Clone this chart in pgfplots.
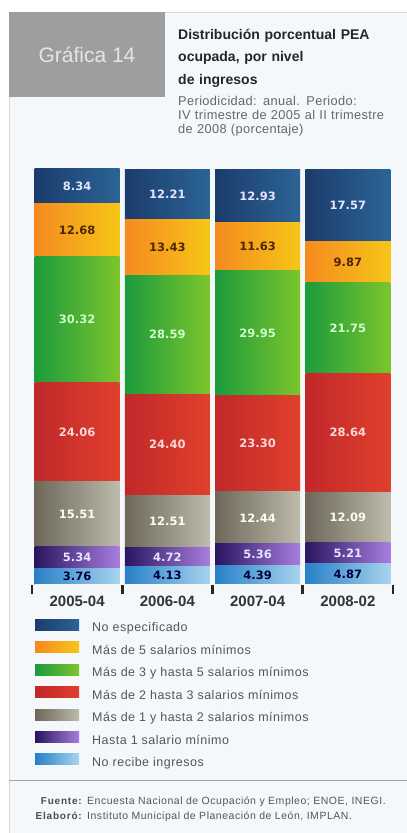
\documentclass[border=0pt]{standalone}
\usepackage{fontspec}
\setmainfont{Liberation Sans}
\newfontfamily\dv{DejaVu Sans}
\usepackage{pgfplots}
\usepackage{pgfplotstable}
\pgfplotsset{compat=1.18}

\definecolor{panelbg}{HTML}{F5F8FA}
\definecolor{sep}{HTML}{FAF3DE}
\definecolor{txt}{HTML}{555555}
% series colours, left / right end of each gradient
\definecolor{neL}{HTML}{1B3C6C}\definecolor{neR}{HTML}{2C6496}
\definecolor{mfL}{HTML}{F58A1F}\definecolor{mfR}{HTML}{F6C617}
\definecolor{htL}{HTML}{1C9B3C}\definecolor{htR}{HTML}{7CC52C}
\definecolor{dtL}{HTML}{C0282A}\definecolor{dtR}{HTML}{E0402C}
\definecolor{udL}{HTML}{6D685A}\definecolor{udR}{HTML}{BDBBAB}
\definecolor{hoL}{HTML}{2A1560}\definecolor{hoR}{HTML}{A87EE0}
\definecolor{nrL}{HTML}{2780C8}\definecolor{nrR}{HTML}{A8D4EE}

% empty mark: the scatter code below does all the drawing
\pgfdeclareplotmark{nothing}{}

% columns: no recibe, hasta 1, 1-2, 2-3, 3-5, mas de 5, no especificado
\pgfplotstableread{
x  nr    ho    ud     dt     ht     mf     ne
0  3.76  5.34  15.51  24.06  30.32  12.68  8.34
1  4.13  4.72  12.51  24.40  28.59  13.43  12.21
2  4.39  5.36  12.44  23.30  29.95  11.63  12.93
3  4.87  5.21  12.09  28.64  21.75  9.87   17.57
}\datatable

% each segment is drawn as a shaded box hanging below its stacked top;
% meta is the segment value, transformed meta = 10*value (0..100 -> 0..1000),
% one percent = 4.15pt
\pgfplotsset{
  seg/.style n args={3}{
    draw=none, fill=none,
    scatter, mark=nothing,
    scatter/@pre marker code/.code={
      \pgfmathsetmacro\hh{0.415*\pgfplotspointmetatransformed}
      \shade[left color=#1, right color=#2] (-42.5pt,-\hh pt) rectangle (42.5pt,0pt);
      \draw[sep, line width=0.9pt] (-42.5pt,-\hh pt) -- (42.5pt,-\hh pt);
      \node[text=#3, inner sep=0pt, font=\dv\bfseries\fontsize{11.5}{11.5}\selectfont]
        at (0pt,{-0.5*\hh pt})
        {\pgfmathprintnumber[fixed, fixed zerofill, precision=2, assume math mode=true]{\pgfplotspointmeta}};
    },
    scatter/@post marker code/.code={},
    legend image code/.code={
      \shade[left color=#1, right color=#2] (0pt,-1.5pt) rectangle (44pt,9.5pt);
      \path (57pt,0pt);
    },
  },
}

\begin{document}
\begin{tikzpicture}
\useasboundingbox (0pt,0pt) rectangle (407pt,-833pt);
\fill[white] (0pt,0pt) rectangle (407pt,-833pt);
\fill[panelbg] (9pt,-12pt) rectangle (407pt,-833pt);
\draw[black!15, line width=0.8pt] (9pt,-12pt) -- (407pt,-12pt);
\draw[black!15, line width=0.8pt] (9pt,-12pt) -- (9pt,-833pt);
\draw[black!35, line width=0.8pt] (9pt,-780pt) -- (407pt,-780pt);

\fill[black!38] (9pt,-12pt) rectangle (165pt,-97pt);
\node[text=white!90!black, font=\fontsize{21}{21}\selectfont] at (87pt,-55pt) {Gráfica 14};

\node[anchor=north west, inner sep=0pt, text width=228pt, align=left,
  font=\fontsize{14}{22.5}\selectfont\bfseries, text=black!85] at (178pt,-29pt)
  {Distribución porcentual PEA\\ocupada, por nivel\\de ingresos};
\node[anchor=north west, inner sep=0pt, text width=228pt, align=left,
  font=\fontsize{12.8}{14}\selectfont\addfontfeature{LetterSpace=3}, text=black!60] at (178pt,-96pt)
  {Periodicidad: anual. Periodo:\\IV trimestre de 2005 al II trimestre\\de 2008 (porcentaje)};

\begin{axis}[
  at={(32pt,-584pt)}, anchor=south west,
  scale only axis, width=361pt, height=415pt,
  ybar stacked, bar width=85pt,
  xmin=-0.5, xmax=3.5, ymin=0, ymax=100,
  clip=false,
  point meta=explicit, point meta min=0, point meta max=100,
  axis line style={draw=none},
  ytick=\empty,
  xtick={0,1,2,3},
  xticklabels={2005-04,2006-04,2007-04,2008-02},
  xtick pos=bottom,
  major tick length=0pt,
  x tick label style={font=\fontsize{15}{15}\selectfont\bfseries, text=black!80, yshift=-8pt},
  reverse legend,
  legend style={at={(0,0)}, anchor=north west, xshift=3pt, yshift=-35pt,
    draw=none, fill=none, inner sep=0pt, row sep=7.2pt,
    nodes={inner sep=0pt, text height=9pt, text depth=2.5pt},
    font=\fontsize{12.5}{12.5}\selectfont\addfontfeature{LetterSpace=4}, text=txt, cells={anchor=west}},
]
\addplot[seg={nrL}{nrR}{black!75!blue}] table[x=x, y=nr, meta=nr] {\datatable};
\addplot[seg={hoL}{hoR}{white!90!blue}] table[x=x, y=ho, meta=ho] {\datatable};
\addplot[seg={udL}{udR}{white!92!yellow}] table[x=x, y=ud, meta=ud] {\datatable};
\addplot[seg={dtL}{dtR}{white!85!red}] table[x=x, y=dt, meta=dt] {\datatable};
\addplot[seg={htL}{htR}{white!80!green}] table[x=x, y=ht, meta=ht] {\datatable};
\addplot[seg={mfL}{mfR}{black!70!orange}] table[x=x, y=mf, meta=mf] {\datatable};
\addplot[seg={neL}{neR}{white!90!blue}] table[x=x, y=ne, meta=ne] {\datatable};
\legend{No recibe ingresos, Hasta 1 salario mínimo,
  Más de 1 y hasta 2 salarios mínimos, Más de 2 hasta 3 salarios mínimos,
  Más de 3 y hasta 5 salarios mínimos, Más de 5 salarios mínimos,
  No especificado}
% short dark marks between the categories, below the bars
\pgfplotsinvokeforeach{-0.5,0.5,1.5,2.5,3.5}{
  \draw[black!85, line width=2.8pt] (axis cs:#1,0) ++(0pt,-1pt) -- ++(0pt,-9pt);
}
\end{axis}

\begin{scope}[every node/.style={inner sep=0pt, font=\fontsize{10.5}{10.5}\selectfont\addfontfeature{LetterSpace=5}}]
\node[anchor=base east, font=\bfseries\addfontfeature{LetterSpace=8}, text=black!70] at (82pt,-804pt) {Fuente:};
\node[anchor=base east, font=\bfseries\addfontfeature{LetterSpace=8}, text=black!70] at (82pt,-819pt) {Elaboró:};
\node[anchor=base west, text=txt] at (87pt,-804pt) {Encuesta Nacional de Ocupación y Empleo; ENOE, INEGI.};
\node[anchor=base west, text=txt] at (87pt,-819pt) {Instituto Municipal de Planeación de León, IMPLAN.};
\end{scope}
\end{tikzpicture}
\end{document}
